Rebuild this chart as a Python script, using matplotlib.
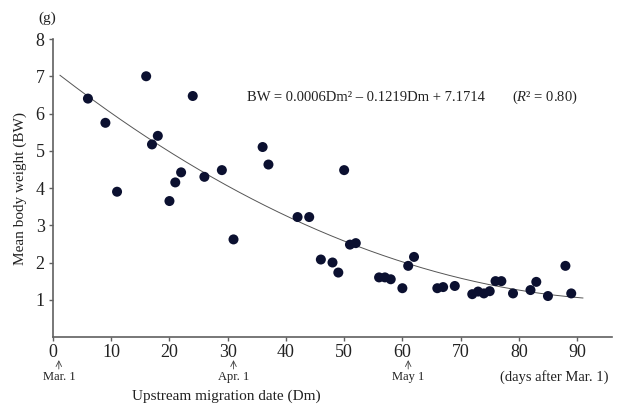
import numpy as np
import matplotlib.pyplot as plt

plt.rcParams["font.family"] = ["Liberation Serif", "DejaVu Serif"]
plt.rcParams["mathtext.fontset"] = "custom"
plt.rcParams["mathtext.it"] = "Liberation Serif:italic"
plt.rcParams["mathtext.rm"] = "Liberation Serif"

# upstream migration date (days after Mar. 1) and mean body weight (g)
dm = [6, 9, 11, 16, 17, 18, 20, 21, 22, 24, 26, 29, 31, 36, 37, 42, 44, 46,
      48, 49, 50, 51, 52, 56, 57, 58, 60, 61, 62, 66, 67, 69, 72, 73, 74, 75,
      76, 77, 79, 82, 83, 85, 88, 89]
bw = [6.4, 5.75, 3.9, 7.0, 5.17, 5.4, 3.65, 4.15, 4.42, 6.47, 4.3, 4.48,
      2.62, 5.1, 4.63, 3.22, 3.22, 2.08, 2.0, 1.73, 4.48, 2.48, 2.52, 1.6,
      1.6, 1.55, 1.31, 1.91, 2.15, 1.31, 1.34, 1.37, 1.15, 1.22, 1.17, 1.23,
      1.5, 1.5, 1.17, 1.26, 1.48, 1.1, 1.91, 1.17]

# quadratic fit coefficients
coef = [0.0006, -0.1219, 7.1714]
fit_range = (1.2, 91)

# date markers along the x axis
date_days = [1, 31, 61]
date_names = ["Mar. 1", "Apr. 1", "May 1"]

axis_color = "#606060"
text_color = "#222222"

fig = plt.figure(figsize=(6.23, 4.07), dpi=100)
ax = fig.add_axes([53 / 623, 1 - 337 / 407, 559 / 623, 298 / 407])

xs = np.linspace(*fit_range, 200)
ax.plot(xs, np.polyval(coef, xs), color="#555555", lw=0.7, zorder=1)
ax.scatter(dm, bw, s=52, color="#0b1030", edgecolors="none", zorder=2)

ax.set_xlim(0, 96)
ax.set_ylim(0, 8)
ax.set_xticks(range(0, 91, 10))
ax.set_yticks(range(1, 9))
ax.spines["top"].set_visible(False)
ax.spines["right"].set_visible(False)
for side in ["left", "bottom"]:
    ax.spines[side].set_color(axis_color)
    ax.spines[side].set_linewidth(1.2)
ax.tick_params(axis="both", colors=axis_color, length=3, width=1,
               labelsize=13, labelcolor=text_color)
ax.tick_params(axis="y", pad=3)
ax.tick_params(axis="x", pad=2)

ax.set_ylabel("Mean body weight (BW)", fontsize=11, color=text_color)
ax.yaxis.set_label_coords(-0.047, 0.5)
ax.set_xlabel("Upstream migration date (Dm)", fontsize=11, color=text_color)
ax.xaxis.set_label_coords(0.31, -0.175)

fig.text(47 / 623, 1 - 18 / 407, "(g)", fontsize=11, ha="center", va="center",
         color=text_color)

ax.text(33.3, 6.43, "BW = 0.0006Dm\u00b2 \u2013 0.1219Dm + 7.1714",
        fontsize=10.5, ha="left", va="center", color=text_color)
ax.text(84.4, 6.43, "($\\it{R}$\u00b2 = 0.80)", fontsize=10.5, ha="center",
        va="center", color=text_color)

for day, name in zip(date_days, date_names):
    ax.annotate("", xy=(day, -0.62), xytext=(day, -0.86),
                xycoords="data", annotation_clip=False,
                arrowprops=dict(arrowstyle="->", color="#444444", lw=0.6,
                                shrinkA=0, shrinkB=0))
    ax.text(day, -0.9, name, fontsize=9, ha="center", va="top",
            color=text_color, clip_on=False)

ax.text(86.1, -0.88, "(days after Mar. 1)", fontsize=10.5, ha="center",
        va="top", color=text_color, clip_on=False)

fig.savefig("out.png", dpi=100)
